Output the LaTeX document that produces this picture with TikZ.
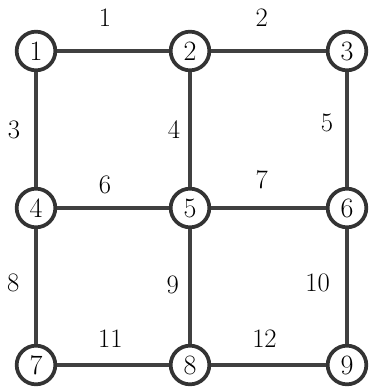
\documentclass[tikz,border=0pt]{standalone}
\usetikzlibrary{positioning}

\begin{document}
\begin{tikzpicture}[x=0.75pt, y=-0.75pt]
        \tikzstyle{vertex} = [circle, draw=black!80, line width=2.8pt, fill=white, minimum size=29pt, inner sep=0pt, font=\fontsize{21}{22}\selectfont]
        \tikzstyle{edge} = [draw=black!75, line width=2.4pt]
        \tikzstyle{lbl} = [font=\fontsize{20}{22}\selectfont, inner sep=0pt]

        \useasboundingbox (0,0) rectangle (372,387);

        \node (n1) [vertex] at (36,51) {1};
        \node (n2) [vertex] at (190,51) {2};
        \node (n3) [vertex] at (347,51) {3};
        \node (n4) [vertex] at (36,208) {4};
        \node (n5) [vertex] at (190,208) {5};
        \node (n6) [vertex] at (347,208) {6};
        \node (n7) [vertex] at (36,365) {7};
        \node (n8) [vertex] at (190,365) {8};
        \node (n9) [vertex] at (347,365) {9};

        \draw [edge] (n1) -- node[lbl, xshift=-6pt, yshift=25pt] {1} (n2);
        \draw [edge] (n2) -- node[lbl, xshift=-5pt, yshift=25pt] {2} (n3);
        \draw [edge] (n1) -- node[lbl, xshift=-16.5pt] {3} (n4);
        \draw [edge] (n2) -- node[lbl, xshift=-12pt] {4} (n5);
        \draw [edge] (n3) -- node[lbl, xshift=-15pt, yshift=5pt] {5} (n6);
        \draw [edge] (n4) -- node[lbl, xshift=-6pt, yshift=17pt] {6} (n5);
        \draw [edge] (n5) -- node[lbl, xshift=-5pt, yshift=21pt] {7} (n6);
        \draw [edge] (n4) -- node[lbl, xshift=-17pt, yshift=3pt] {8} (n7);
        \draw [edge] (n5) -- node[lbl, xshift=-13pt, yshift=1pt] {9} (n8);
        \draw [edge] (n6) -- node[lbl, xshift=-22pt, yshift=3pt] {10} (n9);
        \draw [edge] (n7) -- node[lbl, xshift=-2pt, yshift=20pt] {11} (n8);
        \draw [edge] (n8) -- node[lbl, xshift=-3pt, yshift=20pt] {12} (n9);
    \end{tikzpicture}
\end{document}
